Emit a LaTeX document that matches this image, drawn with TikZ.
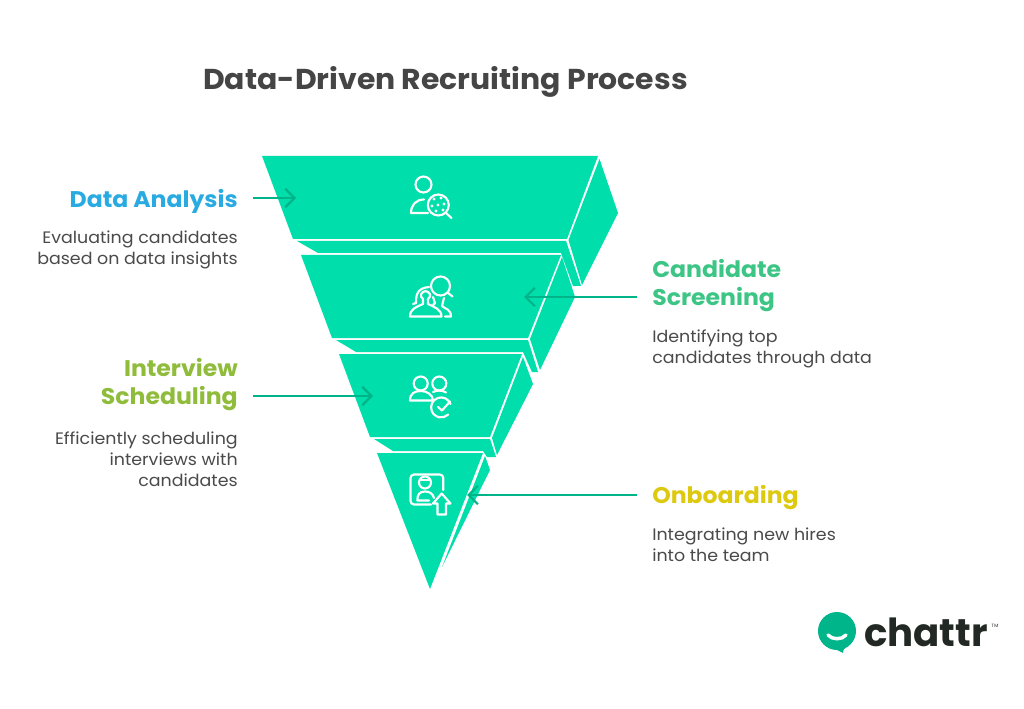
\documentclass[tikz,border=0pt]{standalone}
\usepackage{fontspec}
\setmainfont{Poppins}
\newfontfamily\headfont[FakeStretch=1.04]{Poppins}
\newfontfamily\descfont[FakeStretch=1.05]{Poppins}
\definecolor{teal}{HTML}{00DEAB}
\definecolor{arrowc}{HTML}{00B48A}
\definecolor{txt}{HTML}{4A4A4A}
\definecolor{titlec}{HTML}{454545}
\definecolor{cblue}{HTML}{29ABE2}
\definecolor{cgreen}{HTML}{3CC585}
\definecolor{colive}{HTML}{8FBC3A}
\definecolor{cyellow}{HTML}{DDC90F}
\definecolor{logoc}{HTML}{00B58A}
\definecolor{logok}{HTML}{222824}
\tikzset{
  x=0.75pt,y=-0.75pt,
  face/.style={fill=teal,draw=none},
  iconline/.style={draw=white,line width=1.6pt,line cap=round,line join=round,fill=none},
  conn/.style={draw=arrowc,line width=1.6pt,-{Straight Barb[length=7pt,width=14pt,line width=1.6pt]}},
  headl/.style={font=\headfont\fontsize{17}{21}\selectfont\bfseries,inner sep=0pt,align=right,anchor=east},
  headr/.style={font=\headfont\fontsize{17}{21}\selectfont\bfseries,inner sep=0pt,align=left,anchor=west},
  descl/.style={font=\descfont\fontsize{12.45}{15.9}\selectfont,text=txt,inner sep=0pt,align=right,anchor=east},
  descr/.style={font=\descfont\fontsize{12.45}{15.9}\selectfont,text=txt,inner sep=0pt,align=left,anchor=west},
}
\usetikzlibrary{arrows.meta}
\begin{document}
\begin{tikzpicture}
\useasboundingbox (0,0) rectangle (1024,709);
\fill[white] (0,0) rectangle (1024,709);
% segment 1
\fill[face] (262,156) -- (598,156) -- (567,239) -- (293,239) -- cycle;
\fill[face] (599.5,159) -- (618,213) -- (582,285) -- (568.5,240) -- cycle;
\fill[face] (297,241) -- (566,241) -- (581,286) -- (573,286) -- (561,253) -- (318,253) -- cycle;
% segment 2
\fill[face] (301,255) -- (561,255) -- (528,338) -- (332,338) -- cycle;
\fill[face] (562,257) -- (575,297) -- (540,370) -- (530,339) -- cycle;
\fill[face] (336,340) -- (528,340) -- (538,372) -- (532,372) -- (523,352) -- (356,352) -- cycle;
% segment 3
\fill[face] (339,354) -- (522,354) -- (490,437) -- (370,437) -- cycle;
\fill[face] (523,357) -- (533,384) -- (497,455) -- (492,438) -- cycle;
\fill[face] (374,439) -- (490,439) -- (496,457) -- (487,457) -- (483,451) -- (393,451) -- cycle;
% segment 4
\fill[face] (377,453) -- (483,453) -- (430,589) -- cycle;
\fill[face] (485,456) -- (490,470) -- (442,567) -- cycle;
% icon 1
\draw[iconline] (423.5,184.5) circle (8);
\draw[iconline] (428,213) -- (411,213) .. controls (411,205) and (416,199.5) .. (424,199.5);
\draw[iconline] (438.3,205) circle (10.5);
\draw[iconline] (446,213) -- (451.5,218);
\foreach \px/\py in {434/199,441/198,444/204,438/205,432/206,436/211,443/210}
  \fill[white] (\px,\py) circle (1.6);
% icon 2
\draw[iconline] (440.5,286) circle (9.5);
\draw[iconline] (447.5,292.5) -- (452.5,296.5);
\draw[iconline] (410,316.5) .. controls (410,309) and (416,307) .. (423,304) -- (423,299) .. controls (419,296) and (421,292) .. (425.5,291) .. controls (430,292) and (432,296) .. (428,299) -- (428,304) .. controls (434,307) and (441.5,309) .. (441.5,316.5) -- cycle;
\draw[iconline] (416,303) .. controls (416,295) and (417,288) .. (429,287);
\draw[iconline] (416,303) -- (413,304);
\draw[iconline] (433,297) -- (435,303) -- (433,305);
\draw[iconline] (445,316.5) -- (451,316.5) .. controls (451,309) and (445,309) .. (442,306) -- (444,298);
% icon 3
\draw[iconline] (420.7,383.5) circle (7);
\draw[iconline] (410,400.5) .. controls (410,393) and (415,391) .. (421,391) .. controls (427,391) and (433,395) .. (433,400.5) -- cycle;
\draw[iconline] (439.3,383.5) circle (7);
\draw[iconline] (433,392) .. controls (437,390) and (442,390) .. (446,392.5);
\draw[iconline] (450.5,404) arc[start angle=-20,end angle=-315,radius=10];
\draw[iconline] (438,407) -- (442,410.5) -- (450,401.5);
% icon 4
\draw[iconline] (443.3,490) -- (443.3,478) arc[start angle=0,end angle=-90,radius=3.5] -- (414,474.5) arc[start angle=-90,end angle=-180,radius=3.5] -- (410.5,501) arc[start angle=180,end angle=90,radius=3.5] -- (431,504.5);
\draw[iconline] (425,482.5) circle (6);
\draw[iconline] (421,480) -- (429,480);
\draw[iconline] (417.3,500.5) .. controls (417.3,494) and (420,491.5) .. (425,491.5) .. controls (430,491.5) and (433,494) .. (434,498) (417.3,500.5) -- (429,500.5);
\draw[iconline] (441.7,493.5) -- (433,503.5) -- (437.5,503.5) -- (437.5,514.5) -- (446,514.5) -- (446,503.5) -- (450.5,503.5) -- cycle;
% title
\node[font=\headfont\fontsize{21.55}{26}\selectfont\bfseries,text=titlec,inner sep=0pt,anchor=west] (title) at (203,82) {Data-Driven Recruiting Process};
% labels
\node[headl,text=cblue] (h1) at (238,201) {Data Analysis};
\node[descl] (d1) at (238,250) {Evaluating candidates\\based on data insights};
\node[headr,text=cgreen] (h2) at (652,285.5) {Candidate\\Screening};
\node[descr] (d2) at (652,349) {Identifying top\\candidates through data};
\node[headl,text=colive] (h3) at (238,384.5) {Interview\\Scheduling};
\node[descl] (d3) at (238,459.5) {Efficiently scheduling\\interviews with\\candidates};
\node[headr,text=cyellow] (h4) at (652,497.5) {Onboarding};
\node[descr] (d4) at (652,544.5) {Integrating new hires\\into the team};
% connectors
\coordinate (a1s) at (253,198); \coordinate (a1e) at (296,198);
\coordinate (a2s) at (637,297); \coordinate (a2e) at (524,297);
\coordinate (a3s) at (253,396); \coordinate (a3e) at (373,396);
\coordinate (a4s) at (637,495); \coordinate (a4e) at (467,495);
\draw[conn] (a1s) -- (a1e);
\draw[conn] (a2s) -- (a2e);
\draw[conn] (a3s) -- (a3e);
\draw[conn] (a4s) -- (a4e);
% logo
\fill[logoc] (837,631) circle (19) ;
\fill[logoc] (837,650) -- (843,653) .. controls (843,651) and (843,650) .. (846,647) -- cycle;
\draw[white,line width=2.6pt,line cap=round] (828,635) .. controls (832,640) and (842,640) .. (846,635);
\node[font=\fontsize{29}{29}\selectfont\bfseries,text=logok,inner sep=0pt,anchor=west] (logo) at (864,632) {chattr};
\node[font=\fontsize{3.5}{4}\selectfont,text=logok,inner sep=0pt] (tm) at (995,626) {TM};
\end{tikzpicture}
\end{document}
